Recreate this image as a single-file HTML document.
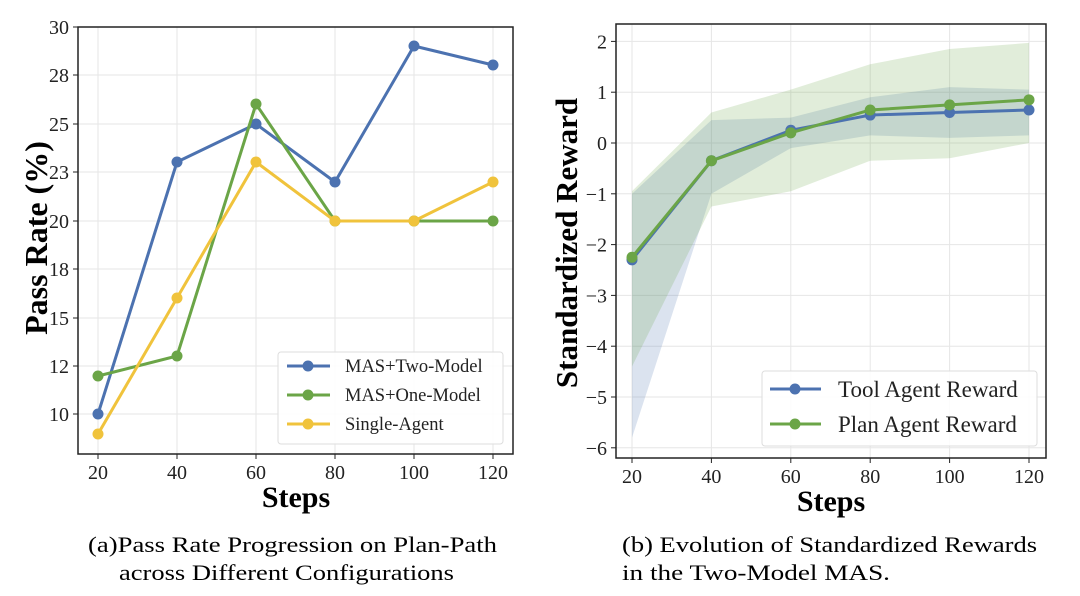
<!DOCTYPE html>
<html><head><meta charset="utf-8"><style>
html,body{margin:0;padding:0;background:#fff}
svg{display:block;font-family:"Liberation Serif",serif}
</style></head><body>
<svg id="s" width="1080" height="596" viewBox="0 0 1080 596" xmlns="http://www.w3.org/2000/svg">
<text x="88" y="552" font-size="22" textLength="409" lengthAdjust="spacingAndGlyphs">(a)Pass Rate Progression on Plan-Path</text>
<text x="119" y="580" font-size="22" textLength="335" lengthAdjust="spacingAndGlyphs">across Different Configurations</text>
<text x="622" y="552" font-size="22" textLength="415" lengthAdjust="spacingAndGlyphs">(b) Evolution of Standardized Rewards</text>
<text x="622" y="580" font-size="22" textLength="268" lengthAdjust="spacingAndGlyphs">in the Two-Model MAS.</text>
</svg>
<script>
const s=document.getElementById('s');let h='';
const B='#4C72B0',G='#6BA547',Y='#F0C33C';
function pl(pts){return pts.map(p=>p.join(',')).join(' ')}
// Left chart
(function(){
const L=78,R=513,T=27,Bt=454;
const xs=v=>98+(v-20)*(493-98)/100;
h+=`<rect x="${L}" y="${T}" width="${R-L}" height="${Bt-T}" fill="#fff"/>`;
[30,28,25,23,20,18,15,12,10].forEach((t,i)=>{const yy=[27,75,124,172,221,269,318,366,414][i];
h+=`<line x1="${L}" x2="${R}" y1="${yy}" y2="${yy}" stroke="#e6e6e6" stroke-width="1"/>`;
h+=`<line x1="${L-5}" x2="${L}" y1="${yy}" y2="${yy}" stroke="#222"/>`;
h+=`<text x="${L-9}" y="${yy+7}" font-size="20" text-anchor="end" fill="#222">${t}</text>`;});
[20,40,60,80,100,120].forEach(v=>{const xx=xs(v);
h+=`<line x1="${xx}" x2="${xx}" y1="${T}" y2="${Bt}" stroke="#e6e6e6"/>`;
h+=`<line x1="${xx}" x2="${xx}" y1="${Bt}" y2="${Bt+5}" stroke="#222"/>`;
h+=`<text x="${xx}" y="${Bt+25}" font-size="20" text-anchor="middle" fill="#222">${v}</text>`;});
const X=[20,40,60,80,100,120];
const ser=[[B,[414,162,124,182,46,65]],[G,[376,356,104,221,221,221]],[Y,[434,298,162,221,221,182]]];
ser.forEach(([c,ys_])=>{const p=X.map((x,i)=>[xs(x),ys_[i]]);
h+=`<polyline points="${pl(p)}" fill="none" stroke="${c}" stroke-width="3"/>`;
p.forEach(q=>h+=`<circle cx="${q[0]}" cy="${q[1]}" r="5.5" fill="${c}"/>`);});
h+=`<rect x="${L}" y="${T}" width="${R-L}" height="${Bt-T}" fill="none" stroke="#222" stroke-width="1.5"/>`;
h+=`<rect x="278" y="352" width="225" height="92" rx="3" fill="#fff" fill-opacity="0.85" stroke="#ddd"/>`;
[['MAS+Two-Model',B],['MAS+One-Model',G],['Single-Agent',Y]].forEach(([t,c],i)=>{const yy=366+i*29;
h+=`<line x1="287" x2="330" y1="${yy}" y2="${yy}" stroke="${c}" stroke-width="3"/><circle cx="308" cy="${yy}" r="5.5" fill="${c}"/>`;
h+=`<text x="345" y="${yy+6}" font-size="18.5" fill="#222">${t}</text>`;});
h+=`<text transform="translate(47,238) rotate(-90)" font-size="32" font-weight="bold" text-anchor="middle">Pass Rate (%)</text>`;
h+=`<text x="296" y="507" font-size="30" font-weight="bold" text-anchor="middle">Steps</text>`;
})();
// Right chart
(function(){
const L=616,R=1046,T=24,Bt=458;
const xs=v=>632+(v-20)*(1029-632)/100;
const ys=v=>143-v*50.8;
h+=`<rect x="${L}" y="${T}" width="${R-L}" height="${Bt-T}" fill="#fff"/>`;
[2,1,0,-1,-2,-3,-4,-5,-6].forEach(t=>{const yy=ys(t);
h+=`<line x1="${L}" x2="${R}" y1="${yy}" y2="${yy}" stroke="#e6e6e6"/>`;
h+=`<line x1="${L-5}" x2="${L}" y1="${yy}" y2="${yy}" stroke="#222"/>`;
h+=`<text x="${L-9}" y="${yy+7}" font-size="20" text-anchor="end" fill="#222">${t<0?'\u2212'+(-t):t}</text>`;});
const X=[20,40,60,80,100,120];
X.forEach(v=>{const xx=xs(v);
h+=`<line x1="${xx}" x2="${xx}" y1="${T}" y2="${Bt}" stroke="#e6e6e6"/>`;
h+=`<line x1="${xx}" x2="${xx}" y1="${Bt}" y2="${Bt+5}" stroke="#222"/>`;
h+=`<text x="${xx}" y="${Bt+25}" font-size="20" text-anchor="middle" fill="#222">${v}</text>`;});
function band(up,lo,c,o){const p=X.map((x,i)=>[xs(x),ys(up[i])]).concat(X.map((x,i)=>[xs(x),ys(lo[i])]).reverse());
h+=`<polygon points="${pl(p)}" fill="${c}" fill-opacity="${o}"/>`;}
band([-1.0,0.45,0.5,0.9,1.1,1.05],[-5.8,-1.0,-0.1,0.15,0.1,0.15],B,0.2);
band([-0.95,0.6,1.05,1.55,1.85,1.97],[-4.4,-1.25,-0.95,-0.35,-0.3,0.0],G,0.2);
[[B,[-2.3,-0.35,0.25,0.55,0.6,0.65]],[G,[-2.25,-0.35,0.2,0.65,0.75,0.85]]].forEach(([c,v])=>{const p=X.map((x,i)=>[xs(x),ys(v[i])]);
h+=`<polyline points="${pl(p)}" fill="none" stroke="${c}" stroke-width="3"/>`;
p.forEach(q=>h+=`<circle cx="${q[0]}" cy="${q[1]}" r="5.5" fill="${c}"/>`);});
h+=`<rect x="${L}" y="${T}" width="${R-L}" height="${Bt-T}" fill="none" stroke="#222" stroke-width="1.5"/>`;
h+=`<rect x="762" y="371" width="275" height="75" rx="3" fill="#fff" fill-opacity="0.85" stroke="#ddd"/>`;
[['Tool Agent Reward',B],['Plan Agent Reward',G]].forEach(([t,c],i)=>{const yy=389+i*35;
h+=`<line x1="770" x2="821" y1="${yy}" y2="${yy}" stroke="${c}" stroke-width="3"/><circle cx="795" cy="${yy}" r="5.5" fill="${c}"/>`;
h+=`<text x="838" y="${yy+8}" font-size="23" fill="#222">${t}</text>`;});
h+=`<text transform="translate(577,243) rotate(-90)" font-size="31" font-weight="bold" text-anchor="middle">Standardized Reward</text>`;
h+=`<text x="831" y="511" font-size="30" font-weight="bold" text-anchor="middle">Steps</text>`;
})();
s.insertAdjacentHTML('afterbegin',h);
</script>
</body></html>
